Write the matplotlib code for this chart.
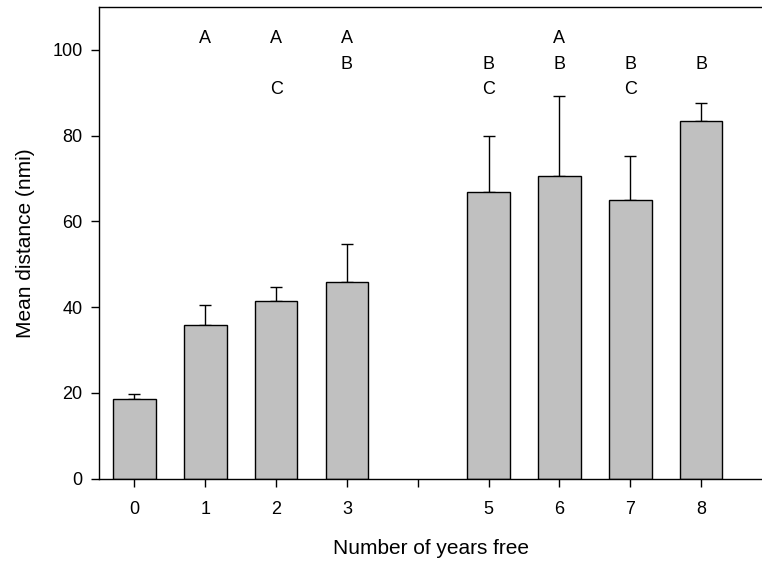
import numpy as np
import matplotlib
matplotlib.use("Agg")
import matplotlib.pyplot as plt

plt.rcParams['font.family'] = ['Liberation Sans', 'DejaVu Sans']

# data
years = [0, 1, 2, 3, 5, 6, 7, 8]
mean_dist = [18.5, 35.9, 41.5, 45.9, 66.8, 70.5, 65.0, 83.5]
err_up = [1.2, 4.7, 3.3, 8.8, 13.1, 18.8, 10.3, 4.0]
letters = ["", "A", "AC", "AB", "BC", "AB", "BC", "B"]
tick_pos = [0, 1, 2, 3, 4, 5, 6, 7, 8]
tick_lbl = ["0", "1", "2", "3", "", "5", "6", "7", "8"]
letter_y = {"A": 102.7, "B": 96.5, "C": 90.8}

fig = plt.figure(figsize=(7.62, 5.61), dpi=100)
ax = fig.add_axes([0.130, 0.1467, 0.870, 0.8408])

ax.bar(years, mean_dist, width=0.6, color="#c0c0c0", edgecolor="black",
       linewidth=1.0, zorder=2)
ax.errorbar(years, mean_dist, yerr=[np.zeros(len(err_up)), err_up],
            fmt="none", ecolor="black", elinewidth=1.0, capsize=4.5,
            capthick=1.0, zorder=1)

for x, lab in zip(years, letters):
    for ch in lab:
        ax.text(x, letter_y[ch], ch, ha="center", va="center", fontsize=13)

ax.set_xlim(-0.5, 8.86)
ax.set_ylim(0, 110)
ax.set_xticks(tick_pos)
ax.set_xticklabels(tick_lbl)
ax.set_yticks([0, 20, 40, 60, 80, 100])
ax.tick_params(direction="out", length=6, width=1, labelsize=13, pad=6)
ax.tick_params(axis="x", pad=10)
ax.spines["right"].set_visible(False)
for s in ["left", "bottom", "top"]:
    ax.spines[s].set_linewidth(1.0)

ax.set_xlabel("Number of years free", fontsize=15, labelpad=15)
ax.set_ylabel("Mean distance (nmi)", fontsize=15, labelpad=12)

fig.savefig("out.png", dpi=100)
